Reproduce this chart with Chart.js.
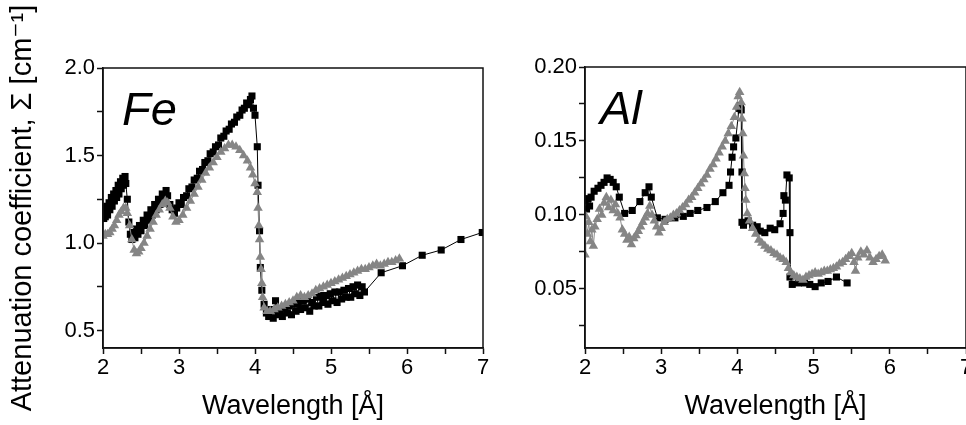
<!DOCTYPE html>
<html>
<head>
<meta charset="utf-8">
<script src="https://cdn.jsdelivr.net/npm/chart.js@4.4.1/dist/chart.umd.min.js"></script>
<style>
  html, body { margin: 0; padding: 0; background: #fff; overflow: hidden; width: 966px; height: 425px; }
  #fe-box { position: absolute; left: 0; top: 0; width: 500px; height: 425px; }
  #al-box { position: absolute; left: 490px; top: 0; width: 530px; height: 425px; }
</style>
</head>
<body>
<div id="fe-box"><canvas id="fe-chart"></canvas></div>
<div id="al-box"><canvas id="al-chart"></canvas></div>
<script>
// Fe panel, black squares
const feBlackX = [2.00,2.01,2.02,2.03,2.05,2.06,2.08,2.09,2.11,2.12,2.14,2.15,2.17,2.18,2.20,2.21,2.23,2.24,2.26,2.27,2.29,2.30,2.32,2.34,2.36,2.38,2.40,2.42,2.44,2.46,2.48,2.50,2.53,2.55,2.58,2.60,2.63,2.65,2.68,2.70,2.73,2.75,2.78,2.80,2.83,2.85,2.88,2.91,2.94,2.97,3.00,3.03,3.06,3.10,3.13,3.17,3.20,3.24,3.27,3.31,3.34,3.38,3.41,3.45,3.48,3.52,3.55,3.59,3.62,3.66,3.69,3.73,3.76,3.80,3.83,3.86,3.89,3.92,3.94,3.96,3.98,4.00,4.03,4.04,4.06,4.07,4.09,4.12,4.15,4.18,4.21,4.24,4.27,4.30,4.33,4.36,4.39,4.42,4.45,4.48,4.51,4.54,4.57,4.60,4.63,4.66,4.69,4.72,4.75,4.78,4.81,4.84,4.87,4.90,4.93,4.96,4.99,5.02,5.05,5.08,5.11,5.14,5.17,5.20,5.23,5.26,5.29,5.32,5.35,5.38,5.41,5.44,5.66,5.94,6.20,6.45,6.71,6.99];
const feBlackY = [1.20,1.14,1.18,1.15,1.21,1.16,1.23,1.19,1.26,1.21,1.28,1.24,1.30,1.26,1.33,1.28,1.35,1.31,1.37,1.33,1.38,1.34,1.25,1.12,1.05,1.02,1.06,1.03,1.08,1.05,1.10,1.07,1.13,1.10,1.16,1.13,1.19,1.16,1.22,1.19,1.25,1.22,1.28,1.25,1.30,1.27,1.22,1.19,1.17,1.20,1.23,1.22,1.26,1.27,1.31,1.32,1.36,1.37,1.41,1.42,1.46,1.47,1.51,1.52,1.55,1.56,1.60,1.61,1.64,1.65,1.68,1.69,1.72,1.73,1.76,1.77,1.80,1.79,1.82,1.84,1.77,1.73,1.55,1.33,1.07,0.86,0.73,0.65,0.60,0.58,0.62,0.57,0.67,0.59,0.62,0.58,0.63,0.60,0.64,0.59,0.65,0.61,0.66,0.62,0.67,0.63,0.68,0.61,0.66,0.64,0.69,0.64,0.70,0.66,0.70,0.65,0.71,0.67,0.72,0.66,0.72,0.68,0.73,0.69,0.74,0.69,0.75,0.71,0.76,0.70,0.75,0.72,0.83,0.87,0.93,0.96,1.02,1.06];

// Fe panel, grey triangles
const feGreyX = [2.00,2.03,2.06,2.09,2.12,2.15,2.18,2.21,2.24,2.27,2.30,2.32,2.35,2.38,2.41,2.44,2.47,2.50,2.54,2.58,2.62,2.66,2.70,2.74,2.78,2.82,2.85,2.88,2.92,2.96,3.00,3.05,3.10,3.15,3.20,3.25,3.30,3.35,3.40,3.45,3.50,3.55,3.60,3.65,3.70,3.75,3.80,3.85,3.90,3.94,3.97,4.00,4.03,4.04,4.05,4.06,4.07,4.08,4.09,4.10,4.12,4.16,4.20,4.25,4.30,4.35,4.40,4.45,4.50,4.55,4.60,4.65,4.70,4.75,4.80,4.85,4.90,4.95,5.00,5.05,5.10,5.15,5.20,5.25,5.30,5.35,5.40,5.45,5.50,5.55,5.60,5.65,5.70,5.75,5.80,5.85,5.90];
const feGreyY = [1.04,1.05,1.05,1.06,1.08,1.10,1.13,1.16,1.18,1.20,1.20,1.17,1.10,1.02,0.96,0.94,0.95,0.97,1.00,1.04,1.08,1.12,1.16,1.19,1.22,1.24,1.23,1.20,1.15,1.12,1.13,1.16,1.20,1.24,1.28,1.32,1.36,1.40,1.43,1.46,1.49,1.52,1.54,1.56,1.56,1.55,1.53,1.50,1.47,1.43,1.39,1.34,1.29,1.20,1.10,1.02,0.92,0.85,0.77,0.69,0.63,0.61,0.61,0.62,0.63,0.64,0.65,0.66,0.67,0.69,0.70,0.69,0.70,0.71,0.73,0.74,0.75,0.76,0.77,0.78,0.79,0.80,0.81,0.82,0.83,0.84,0.85,0.85,0.86,0.87,0.88,0.87,0.88,0.89,0.89,0.90,0.91];

// Al panel, black squares
const alBlackX = [2.00,2.02,2.04,2.06,2.08,2.12,2.17,2.21,2.25,2.29,2.33,2.37,2.41,2.45,2.52,2.62,2.72,2.79,2.84,2.87,2.95,3.05,3.18,3.29,3.38,3.48,3.60,3.71,3.81,3.89,3.91,3.93,3.95,3.98,4.02,4.04,4.05,4.06,4.06,4.08,4.14,4.20,4.26,4.30,4.36,4.43,4.49,4.56,4.60,4.61,4.63,4.65,4.68,4.69,4.69,4.72,4.80,4.88,4.95,5.02,5.10,5.19,5.30,5.44];
const alBlackY = [0.110,0.104,0.111,0.106,0.112,0.116,0.118,0.120,0.122,0.125,0.124,0.122,0.119,0.112,0.101,0.103,0.109,0.115,0.119,0.112,0.098,0.097,0.098,0.099,0.101,0.103,0.105,0.109,0.115,0.120,0.129,0.139,0.146,0.152,0.172,0.174,0.171,0.129,0.095,0.093,0.096,0.093,0.092,0.089,0.088,0.091,0.090,0.094,0.101,0.113,0.110,0.127,0.125,0.088,0.058,0.053,0.054,0.054,0.053,0.0515,0.054,0.055,0.058,0.054];

// Al panel, grey triangles
const alGreyX = [2.00,2.01,2.03,2.05,2.07,2.09,2.11,2.13,2.16,2.19,2.22,2.25,2.28,2.31,2.34,2.37,2.40,2.43,2.46,2.49,2.52,2.55,2.58,2.61,2.64,2.67,2.70,2.73,2.76,2.79,2.82,2.85,2.88,2.91,2.94,2.97,3.00,3.04,3.08,3.12,3.16,3.20,3.24,3.28,3.32,3.36,3.40,3.44,3.48,3.52,3.56,3.60,3.64,3.68,3.72,3.76,3.80,3.84,3.88,3.92,3.96,3.99,4.01,4.03,4.05,4.06,4.07,4.08,4.09,4.10,4.11,4.13,4.16,4.20,4.24,4.28,4.32,4.36,4.40,4.44,4.48,4.52,4.56,4.60,4.64,4.67,4.70,4.74,4.78,4.82,4.86,4.90,4.94,4.98,5.02,5.06,5.10,5.14,5.18,5.22,5.26,5.30,5.34,5.38,5.42,5.46,5.50,5.53,5.55,5.58,5.62,5.66,5.70,5.74,5.78,5.82,5.86,5.90,5.94];
const alGreyY = [0.073,0.099,0.087,0.095,0.082,0.090,0.079,0.092,0.097,0.104,0.100,0.108,0.112,0.105,0.110,0.103,0.107,0.101,0.098,0.090,0.087,0.083,0.085,0.080,0.084,0.086,0.089,0.092,0.095,0.098,0.101,0.106,0.100,0.096,0.092,0.088,0.091,0.095,0.097,0.098,0.100,0.101,0.103,0.105,0.107,0.110,0.112,0.115,0.118,0.121,0.124,0.127,0.131,0.134,0.138,0.142,0.146,0.150,0.155,0.160,0.166,0.173,0.180,0.183,0.176,0.165,0.155,0.140,0.128,0.118,0.110,0.101,0.096,0.091,0.087,0.083,0.081,0.079,0.077,0.076,0.074,0.073,0.071,0.070,0.068,0.064,0.061,0.059,0.058,0.057,0.056,0.058,0.059,0.060,0.061,0.060,0.061,0.062,0.062,0.063,0.064,0.065,0.067,0.068,0.070,0.072,0.074,0.068,0.062,0.071,0.075,0.073,0.076,0.071,0.068,0.070,0.072,0.073,0.069];

const xTicksShown = [2, 3, 4, 5, 6, 7];
const panelLabels = ["Fe", "Al"];
const xTitle = "Wavelength [\u00C5]";
const yTitle = "Attenuation coefficient, \u03A3 [cm\u207B\u00B9]";

const fontFamily = "'Liberation Sans', Arial, 'DejaVu Sans', sans-serif";

//pair up x and y lists for a scatter dataset
const toPoints = function (xs, ys) {
  return xs.map((x, i) => ({ x: x, y: ys[i] }));
};

//frame around plot area plus the italic element label
const framePlugin = {
  id: 'frame',
  afterDraw: function (chart, args, opts) {
    const a = chart.chartArea;
    const ctx = chart.ctx;
    ctx.save();
    ctx.strokeStyle = '#111';
    ctx.lineWidth = 1.5;
    ctx.strokeRect(a.left, a.top, a.right - a.left, a.bottom - a.top);
    ctx.fillStyle = '#000';
    ctx.font = "italic 47px " + fontFamily;
    ctx.textBaseline = 'alphabetic';
    ctx.fillText(opts.label, a.left + opts.dx, a.top + 57);
    ctx.restore();
  }
};

const makeChart = function (canvasId, cfg) {
  const isMajor = (v, step) => Math.abs(v / step - Math.round(v / step)) < 1e-6;
  return new Chart(document.getElementById(canvasId), {
    type: 'scatter',
    data: {
      datasets: [
        {
          data: toPoints(cfg.blackX, cfg.blackY),
          showLine: true,
          borderColor: '#000',
          borderWidth: 1,
          pointStyle: 'rect',
          pointRadius: 5,
          backgroundColor: '#000',
          pointBorderWidth: 0,
          order: 2
        },
        {
          data: toPoints(cfg.greyX, cfg.greyY),
          showLine: true,
          borderColor: '#8a8a8a',
          borderWidth: 1,
          pointStyle: 'triangle',
          pointRadius: 5.5,
          backgroundColor: '#858585',
          pointBorderWidth: 0,
          order: 1
        }
      ]
    },
    options: {
      responsive: true,
      maintainAspectRatio: false,
      animation: false,
      layout: { padding: { top: cfg.top, right: cfg.right, left: 0, bottom: 0 } },
      plugins: {
        legend: { display: false },
        tooltip: { enabled: false },
        frame: { label: cfg.label, dx: cfg.labelDx }
      },
      scales: {
        x: {
          type: 'linear',
          min: 2,
          max: 7,
          afterFit: (scale) => { scale.height = 77; },
          border: { display: true, color: '#111', width: 1.5 },
          grid: { drawOnChartArea: false, drawTicks: true, tickLength: 6, tickColor: '#111', tickWidth: 1.5 },
          ticks: {
            stepSize: 0.5,
            autoSkip: false,
            maxRotation: 0,
            padding: 1,
            color: '#000',
            font: { family: fontFamily, size: 22 },
            callback: (v) => xTicksShown.includes(v) ? String(v) : ''
          },
          title: {
            display: true,
            text: xTitle,
            color: '#000',
            font: { family: fontFamily, size: 27 },
            padding: { top: 0, bottom: 2 }
          }
        },
        y: {
          type: 'linear',
          min: cfg.yMin,
          max: cfg.yMax,
          afterFit: (scale) => { scale.width = cfg.yWidth; },
          border: { display: true, color: '#111', width: 1.5 },
          grid: { drawOnChartArea: false, drawTicks: true, tickLength: 6, tickColor: '#111', tickWidth: 1.5 },
          ticks: {
            stepSize: cfg.yStep / 2,
            includeBounds: false,
            autoSkip: false,
            padding: 2,
            color: '#000',
            font: { family: fontFamily, size: 22 },
            callback: (v) => isMajor(v, cfg.yStep) ? v.toFixed(cfg.yDigits) : ''
          },
          title: {
            display: cfg.showYTitle,
            text: yTitle,
            color: '#000',
            font: { family: fontFamily, size: 29 },
            padding: { top: 6, bottom: 0 }
          }
        }
      }
    },
    plugins: [framePlugin]
  });
};

makeChart('fe-chart', {
  blackX: feBlackX, blackY: feBlackY, greyX: feGreyX, greyY: feGreyY,
  yMin: 0.4, yMax: 2.0, yStep: 0.5, yDigits: 1,
  yWidth: 103, top: 68, right: 17,
  showYTitle: true, label: panelLabels[0], labelDx: 19
});

makeChart('al-chart', {
  blackX: alBlackX, blackY: alBlackY, greyX: alGreyX, greyY: alGreyY,
  yMin: 0.01, yMax: 0.20, yStep: 0.05, yDigits: 2,
  yWidth: 95, top: 67, right: 54,
  showYTitle: false, label: panelLabels[1], labelDx: 15
});
</script>
</body>
</html>
